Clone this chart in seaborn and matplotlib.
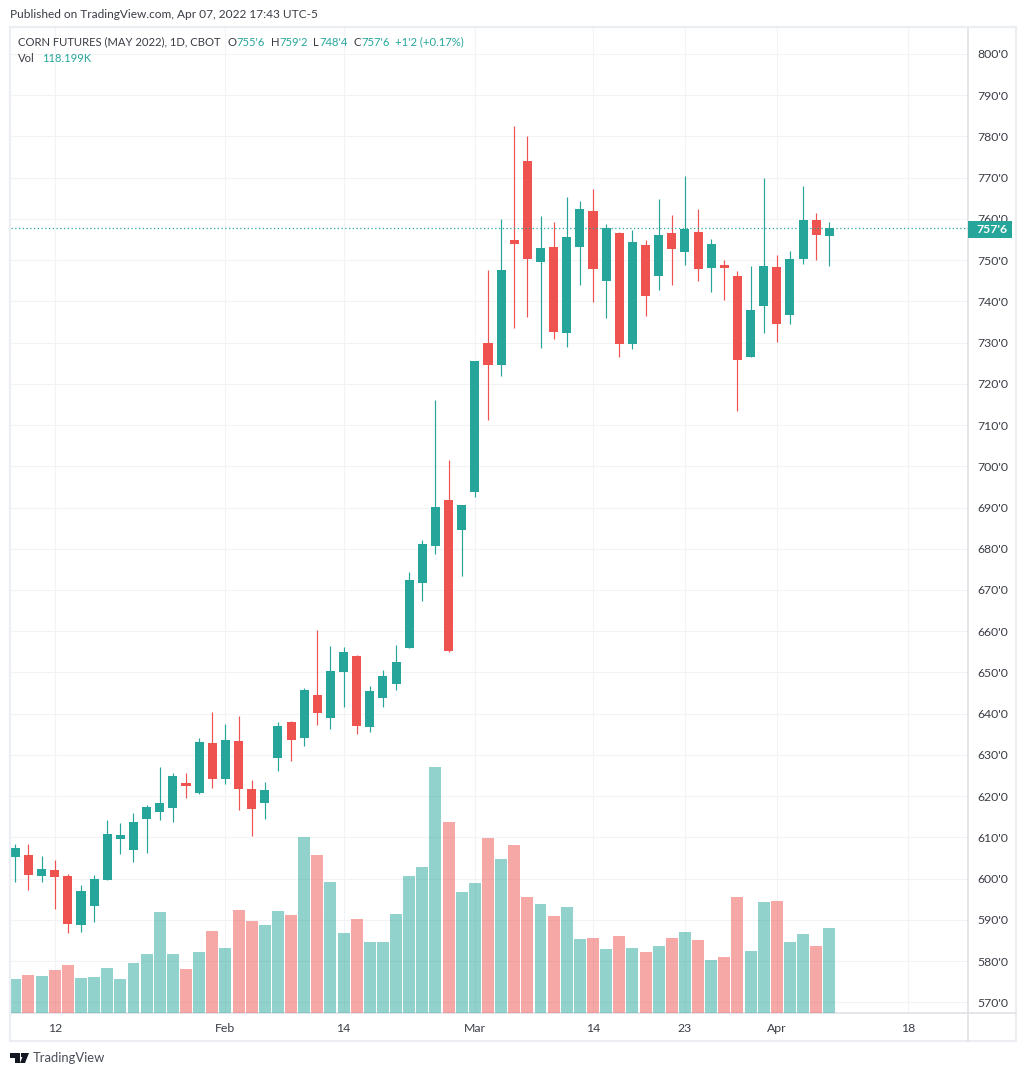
#Corn futures daily candles with volume, TradingView look

import numpy as np
import pandas as pd

import matplotlib
matplotlib.use('Agg')
import matplotlib.pyplot as plt
from matplotlib.lines import Line2D
from matplotlib.patches import Polygon, Rectangle
from matplotlib.transforms import blended_transform_factory
import seaborn as sns

open_p = [605.3, 605.8, 600.7, 602.1, 600.7, 588.8, 593.4, 599.7, 609.6, 607.0, 614.5, 616.2, 617.2, 623.2, 620.8, 632.9,
          624.2, 633.4, 621.8, 618.4, 629.3, 638.0, 634.1, 644.6, 639.0, 650.1, 654.0, 636.8, 643.8, 647.2, 656.0, 671.7,
          680.7, 691.8, 684.6, 693.8, 729.9, 724.6, 754.9, 774.1, 749.6, 753.2, 732.3, 753.2, 761.9, 745.0, 756.6, 729.7,
          753.7, 746.2, 756.6, 752.0, 756.8, 748.1, 748.8, 746.2, 726.5, 738.9, 748.3, 736.7, 750.3, 759.7, 755.75]
close_p = [607.5, 600.9, 602.4, 600.4, 589.0, 597.0, 599.9, 610.8, 610.6, 613.8, 617.4, 618.4, 624.9, 622.5, 633.2, 624.2,
           633.6, 621.8, 616.9, 621.5, 637.0, 633.6, 645.8, 640.2, 650.4, 655.0, 637.0, 645.5, 649.2, 652.6, 672.4, 681.2,
           690.1, 655.2, 690.6, 725.6, 724.6, 747.6, 753.9, 750.3, 753.0, 732.6, 755.6, 762.4, 747.9, 757.8, 729.7, 754.4,
           741.3, 756.1, 752.7, 757.6, 747.9, 753.9, 748.1, 725.8, 737.9, 748.6, 734.5, 750.3, 759.7, 756.1, 757.75]
high_p = [608.4, 608.4, 605.5, 604.5, 601.1, 598.5, 600.9, 614.2, 613.5, 615.9, 617.9, 627.1, 625.6, 625.6, 634.1, 640.4,
          637.5, 639.5, 623.9, 623.5, 638.0, 638.3, 646.3, 660.3, 656.4, 656.2, 654.3, 646.7, 650.6, 656.7, 674.4, 682.1,
          716.1, 701.5, 690.6, 725.6, 747.6, 760.0, 782.5, 780.1, 760.7, 759.3, 765.3, 764.4, 767.3, 758.8, 756.8, 757.3,
          754.9, 764.8, 761.0, 770.4, 762.4, 755.1, 750.0, 747.4, 748.6, 769.9, 751.3, 752.2, 768.0, 761.4, 759.25]
low_p = [599.2, 597.3, 599.2, 592.7, 586.8, 587.1, 589.5, 599.7, 606.0, 604.1, 606.2, 614.2, 613.8, 619.6, 620.5, 622.0,
         623.0, 616.7, 610.4, 614.5, 626.1, 628.6, 632.2, 637.3, 636.3, 641.6, 635.1, 635.6, 641.6, 645.8, 656.0, 667.4,
         678.7, 655.0, 673.4, 692.6, 711.2, 721.9, 733.6, 736.2, 728.7, 730.9, 728.9, 744.0, 739.9, 736.0, 726.5, 728.5,
         736.5, 742.8, 744.0, 748.8, 745.0, 742.3, 740.3, 713.4, 726.5, 732.3, 730.2, 734.5, 749.1, 750.0, 748.5]

#volume in thousands
volume = [47.6, 53.1, 51.7, 60.0, 66.9, 48.9, 50.3, 62.8, 47.6, 69.7, 82.2, 140.4, 82.2, 61.4, 85.0, 114.0,
          90.5, 143.1, 127.9, 122.4, 141.7, 136.2, 244.2, 219.3, 181.9, 111.3, 130.7, 98.8, 98.8, 137.6, 190.2, 202.7,
          341.2, 265.0, 168.1, 180.5, 242.9, 213.8, 233.2, 161.1, 151.4, 134.8, 147.3, 103.0, 104.3, 89.1, 107.1, 90.5,
          85.0, 93.3, 104.3, 112.7, 101.6, 73.9, 78.0, 161.1, 86.3, 154.2, 155.6, 98.8, 109.9, 93.3, 118.199]

date_ticks = [3, 16, 25, 35, 44, 51, 58, 68]
date_labels = ['12', 'Feb', '14', 'Mar', '14', '23', 'Apr', '18']
price_ticks = list(range(570, 801, 10))
price_labels = [str(p) + "'0" for p in price_ticks]
last_close = 757.75
last_label = "757'6"

W, H = 1026, 1076
GREEN = '#26a69a'
RED = '#ef5350'
GRID = '#f2f3f6'
FRAME = '#eceef3'
AXLINE = '#dfe1e8'
DARK = '#3a3d46'

sns.set_theme(style='white')
plt.rcParams['font.family'] = ['Lato', 'DejaVu Sans']

df = pd.DataFrame({'open': open_p, 'close': close_p, 'high': high_p, 'low': low_p, 'vol': volume})
df['idx'] = np.arange(len(df))
df['dir'] = np.where(df['close'] >= df['open'], 'up', 'down')
colors = df['dir'].map({'up': GREEN, 'down': RED})

fig = plt.figure(figsize=(W / 100, H / 100), dpi=100, facecolor='white')
ax = fig.add_axes([11 / W, 1 - 1013 / H, 957 / W, 985 / H])

ax.grid(True, color=GRID, linewidth=0.8)
ax.set_axisbelow(True)

#wicks then bodies
ax.vlines(df['idx'], df['low'], df['high'], colors=colors, linewidth=0.85, zorder=3)
ax.bar(df['idx'], (df['close'] - df['open']).abs(), bottom=df[['open', 'close']].min(axis=1),
       width=0.69, color=colors, linewidth=0, zorder=4)

ax.axhline(last_close, color=GREEN, linestyle=(0, (1, 2)), linewidth=0.9, zorder=5)

ax.set_xlim(-0.33, 72.56)
ax.set_ylim(567.4, 806.3)

#volume pane overlays the bottom quarter
vol_ax = ax.twinx()
sns.barplot(data=df, x='idx', y='vol', hue='dir', palette={'up': GREEN, 'down': RED}, hue_order=['up', 'down'],
            dodge=False, native_scale=True, width=0.91, alpha=0.5, linewidth=0, saturation=1, legend=False, ax=vol_ax)
vol_ax.set_ylim(0, 1364)
vol_ax.set_xlim(-0.33, 72.56)
vol_ax.patch.set_visible(False)
vol_ax.yaxis.set_visible(False)
vol_ax.set_xlabel('')
vol_ax.set_ylabel('')
for s in vol_ax.spines.values():
    s.set_visible(False)

ax.set_xticks(date_ticks)
ax.set_xticklabels(date_labels)
ax.yaxis.tick_right()
ax.set_yticks(price_ticks)
ax.set_yticklabels(price_labels)
ax.tick_params(axis='x', length=0, pad=7, labelsize=8.8, colors=DARK)
ax.tick_params(axis='y', length=0, pad=7, labelsize=8.8, colors=DARK)

for side in ['left', 'top']:
    ax.spines[side].set_visible(False)
for side in ['right', 'bottom']:
    ax.spines[side].set_color(AXLINE)
    ax.spines[side].set_linewidth(1.2)

#last price tag on the scale
trans = blended_transform_factory(ax.transAxes, ax.transData)
vol_ax.add_patch(Rectangle((1.0, last_close - 2.4), 44 / 957, 4.2, transform=trans,
                           facecolor=GREEN, edgecolor='none', clip_on=False, zorder=20))
vol_ax.text(1 + 23.5 / 957, last_close - 0.3, last_label, transform=trans, color='white', fontsize=8.8,
            fontweight='bold', ha='center', va='center', clip_on=False, zorder=21)

#outer frame
fig.add_artist(Rectangle((10 / W, 1 - 1041 / H), 1006 / W, 1014 / H, transform=fig.transFigure,
                         fill=False, edgecolor=FRAME, linewidth=1.6))
fig.add_artist(Line2D([968 / W, 968 / W], [1 - 1041 / H, 1 - 1013 / H], color=AXLINE, linewidth=1.2))
fig.add_artist(Line2D([968 / W, 1016 / W], [1 - 1013 / H, 1 - 1013 / H], color=AXLINE, linewidth=1.2))


def px_text(x, y, s, color=DARK, size=8.1):
    fig.text(x / W, 1 - y / H, s, color=color, fontsize=size, ha='left', va='center', zorder=30)


px_text(10, 14.5, 'Published on TradingView.com, Apr 07, 2022 17:43 UTC-5', size=8.55)
px_text(18, 42, 'CORN FUTURES (MAY 2022), 1D, CBOT')
px_text(228, 42, 'O')
px_text(236, 42, "755'6", GREEN)
px_text(271, 42, 'H')
px_text(279, 42, "759'2", GREEN)
px_text(313, 42, 'L')
px_text(319, 42, "748'4", GREEN)
px_text(353, 42, 'C')
px_text(361, 42, "757'6", GREEN)
px_text(395, 42, "+1'2 (+0.17%)", GREEN)
px_text(18, 59, 'Vol')
px_text(42, 59, '118.199K', GREEN)

#logo, rough shape of the TV mark
logo = [[(10, 1053), (20, 1053), (20, 1063), (15, 1063), (15, 1058), (10, 1058)],
        [(24, 1053), (29, 1053), (25, 1063), (20, 1063)]]
for pts in logo:
    fig.add_artist(Polygon([(x / W, 1 - y / H) for x, y in pts], closed=True, transform=fig.transFigure,
                           facecolor='#131722', edgecolor='none'))
fig.add_artist(Rectangle((20.5 / W, 1 - 1057 / H), 3.6 / W, 3.6 / H, transform=fig.transFigure,
                         facecolor='#131722', edgecolor='none'))
px_text(33, 1058, 'TradingView', color='#4a4d57', size=9.4)

plt.savefig('out.png', dpi=100, facecolor='white')
plt.close()
